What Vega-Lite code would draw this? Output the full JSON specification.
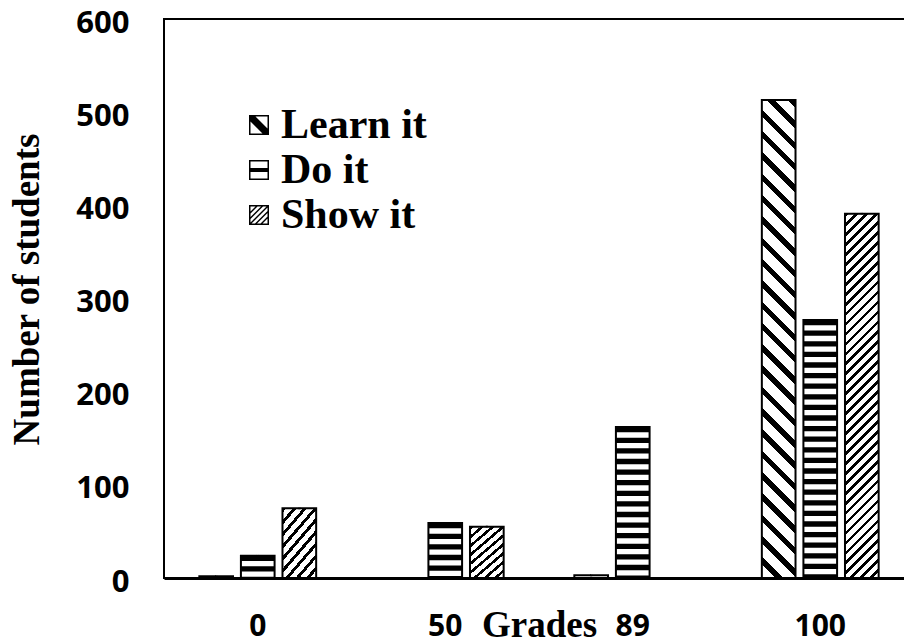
{
  "$schema": "https://vega.github.io/schema/vega-lite/v6.json",
  "width": 750,
  "height": 559,
  "padding": {"left": 8, "top": 7, "right": 0, "bottom": 0},
  "background": "white",
  "config": {"view": {"stroke": "black", "strokeWidth": 2}},
  "data": {"values": [
    {"grade": "0", "series": "Learn it", "n": 2},
    {"grade": "0", "series": "Do it", "n": 24},
    {"grade": "0", "series": "Show it", "n": 75},
    {"grade": "50", "series": "Learn it", "n": 0},
    {"grade": "50", "series": "Do it", "n": 59},
    {"grade": "50", "series": "Show it", "n": 55},
    {"grade": "89", "series": "Learn it", "n": 3},
    {"grade": "89", "series": "Do it", "n": 162},
    {"grade": "89", "series": "Show it", "n": 0},
    {"grade": "100", "series": "Learn it", "n": 513},
    {"grade": "100", "series": "Do it", "n": 277},
    {"grade": "100", "series": "Show it", "n": 391}
  ]},
  "encoding": {
    "x": {"field": "grade", "type": "nominal", "sort": ["0", "50", "89", "100"],
      "scale": {"paddingInner": 0, "paddingOuter": 0},
      "axis": {"title": "Grades", "labelAngle": 0, "ticks": false, "domain": true, "domainColor": "black", "domainWidth": 3,
        "labelFont": "Open Sans", "labelFontWeight": "bold", "labelFontSize": 30, "labelColor": "black", "labelPadding": 33,
        "titleFont": "Liberation Serif", "titleFontWeight": "bold", "titleFontSize": 37, "titleColor": "black",
        "titleBaseline": "alphabetic", "titleY": 58}},
    "xOffset": {"field": "series", "type": "nominal", "sort": ["Learn it", "Do it", "Show it"],
      "scale": {"paddingInner": 0.19, "paddingOuter": 0.85}},
    "y": {"field": "n", "type": "quantitative", "scale": {"domain": [0, 600], "nice": false},
      "axis": {"title": "Number of students", "values": [0, 100, 200, 300, 400, 500, 600], "grid": false, "ticks": false, "domain": false,
        "labelOverlap": false, "labelFont": "Open Sans", "labelFontWeight": "bold", "labelFontSize": 31, "labelColor": "black", "labelPadding": 35, "labelOffset": 4,
        "titleFont": "Liberation Serif", "titleFontWeight": "bold", "titleFontSize": 37, "titleColor": "black", "titlePadding": 29, "titleY": 270}}
  },
  "layer": [
    {
      "transform": [{"filter": "datum.series === 'Learn it' && datum.grade === '100'"}],
      "mark": {"type": "bar", "strokeWidth": 0, "fill": {"gradient": "linear", "x1": 1, "y1": 0, "x2": 0.92495, "y2": 1.0652, "stops": [
        {"offset": 0, "color": "#000"}, {"offset": 0.0146, "color": "#000"}, {"offset": 0.0146, "color": "#fff"}, {"offset": 0.0417, "color": "#fff"},
        {"offset": 0.0417, "color": "#000"}, {"offset": 0.0563, "color": "#000"}, {"offset": 0.0563, "color": "#fff"}, {"offset": 0.0833, "color": "#fff"},
        {"offset": 0.0833, "color": "#000"}, {"offset": 0.0979, "color": "#000"}, {"offset": 0.0979, "color": "#fff"}, {"offset": 0.125, "color": "#fff"},
        {"offset": 0.125, "color": "#000"}, {"offset": 0.1396, "color": "#000"}, {"offset": 0.1396, "color": "#fff"}, {"offset": 0.1667, "color": "#fff"},
        {"offset": 0.1667, "color": "#000"}, {"offset": 0.1813, "color": "#000"}, {"offset": 0.1813, "color": "#fff"}, {"offset": 0.2083, "color": "#fff"},
        {"offset": 0.2083, "color": "#000"}, {"offset": 0.2229, "color": "#000"}, {"offset": 0.2229, "color": "#fff"}, {"offset": 0.25, "color": "#fff"},
        {"offset": 0.25, "color": "#000"}, {"offset": 0.2646, "color": "#000"}, {"offset": 0.2646, "color": "#fff"}, {"offset": 0.2917, "color": "#fff"},
        {"offset": 0.2917, "color": "#000"}, {"offset": 0.3063, "color": "#000"}, {"offset": 0.3063, "color": "#fff"}, {"offset": 0.3333, "color": "#fff"},
        {"offset": 0.3333, "color": "#000"}, {"offset": 0.3479, "color": "#000"}, {"offset": 0.3479, "color": "#fff"}, {"offset": 0.375, "color": "#fff"},
        {"offset": 0.375, "color": "#000"}, {"offset": 0.3896, "color": "#000"}, {"offset": 0.3896, "color": "#fff"}, {"offset": 0.4167, "color": "#fff"},
        {"offset": 0.4167, "color": "#000"}, {"offset": 0.4313, "color": "#000"}, {"offset": 0.4313, "color": "#fff"}, {"offset": 0.4583, "color": "#fff"},
        {"offset": 0.4583, "color": "#000"}, {"offset": 0.4729, "color": "#000"}, {"offset": 0.4729, "color": "#fff"}, {"offset": 0.5, "color": "#fff"},
        {"offset": 0.5, "color": "#000"}, {"offset": 0.5146, "color": "#000"}, {"offset": 0.5146, "color": "#fff"}, {"offset": 0.5417, "color": "#fff"},
        {"offset": 0.5417, "color": "#000"}, {"offset": 0.5563, "color": "#000"}, {"offset": 0.5563, "color": "#fff"}, {"offset": 0.5833, "color": "#fff"},
        {"offset": 0.5833, "color": "#000"}, {"offset": 0.5979, "color": "#000"}, {"offset": 0.5979, "color": "#fff"}, {"offset": 0.625, "color": "#fff"},
        {"offset": 0.625, "color": "#000"}, {"offset": 0.6396, "color": "#000"}, {"offset": 0.6396, "color": "#fff"}, {"offset": 0.6667, "color": "#fff"},
        {"offset": 0.6667, "color": "#000"}, {"offset": 0.6813, "color": "#000"}, {"offset": 0.6813, "color": "#fff"}, {"offset": 0.7083, "color": "#fff"},
        {"offset": 0.7083, "color": "#000"}, {"offset": 0.7229, "color": "#000"}, {"offset": 0.7229, "color": "#fff"}, {"offset": 0.75, "color": "#fff"},
        {"offset": 0.75, "color": "#000"}, {"offset": 0.7646, "color": "#000"}, {"offset": 0.7646, "color": "#fff"}, {"offset": 0.7917, "color": "#fff"},
        {"offset": 0.7917, "color": "#000"}, {"offset": 0.8063, "color": "#000"}, {"offset": 0.8063, "color": "#fff"}, {"offset": 0.8333, "color": "#fff"},
        {"offset": 0.8333, "color": "#000"}, {"offset": 0.8479, "color": "#000"}, {"offset": 0.8479, "color": "#fff"}, {"offset": 0.875, "color": "#fff"},
        {"offset": 0.875, "color": "#000"}, {"offset": 0.8896, "color": "#000"}, {"offset": 0.8896, "color": "#fff"}, {"offset": 0.9167, "color": "#fff"},
        {"offset": 0.9167, "color": "#000"}, {"offset": 0.9313, "color": "#000"}, {"offset": 0.9313, "color": "#fff"}, {"offset": 0.9583, "color": "#fff"},
        {"offset": 0.9583, "color": "#000"}, {"offset": 0.9729, "color": "#000"}, {"offset": 0.9729, "color": "#fff"}, {"offset": 1, "color": "#fff"}
      ]}}
    },
    {
      "transform": [{"filter": "datum.series === 'Show it' && datum.grade === '100'"}],
      "mark": {"type": "bar", "strokeWidth": 0, "fill": {"gradient": "linear", "x1": 0, "y1": 0, "x2": 0.10012, "y2": 1.0833, "stops": [
        {"offset": 0, "color": "#000"}, {"offset": 0.0095, "color": "#000"}, {"offset": 0.0095, "color": "#fff"}, {"offset": 0.025, "color": "#fff"},
        {"offset": 0.025, "color": "#000"}, {"offset": 0.0345, "color": "#000"}, {"offset": 0.0345, "color": "#fff"}, {"offset": 0.05, "color": "#fff"},
        {"offset": 0.05, "color": "#000"}, {"offset": 0.0595, "color": "#000"}, {"offset": 0.0595, "color": "#fff"}, {"offset": 0.075, "color": "#fff"},
        {"offset": 0.075, "color": "#000"}, {"offset": 0.0845, "color": "#000"}, {"offset": 0.0845, "color": "#fff"}, {"offset": 0.1, "color": "#fff"},
        {"offset": 0.1, "color": "#000"}, {"offset": 0.1095, "color": "#000"}, {"offset": 0.1095, "color": "#fff"}, {"offset": 0.125, "color": "#fff"},
        {"offset": 0.125, "color": "#000"}, {"offset": 0.1345, "color": "#000"}, {"offset": 0.1345, "color": "#fff"}, {"offset": 0.15, "color": "#fff"},
        {"offset": 0.15, "color": "#000"}, {"offset": 0.1595, "color": "#000"}, {"offset": 0.1595, "color": "#fff"}, {"offset": 0.175, "color": "#fff"},
        {"offset": 0.175, "color": "#000"}, {"offset": 0.1845, "color": "#000"}, {"offset": 0.1845, "color": "#fff"}, {"offset": 0.2, "color": "#fff"},
        {"offset": 0.2, "color": "#000"}, {"offset": 0.2095, "color": "#000"}, {"offset": 0.2095, "color": "#fff"}, {"offset": 0.225, "color": "#fff"},
        {"offset": 0.225, "color": "#000"}, {"offset": 0.2345, "color": "#000"}, {"offset": 0.2345, "color": "#fff"}, {"offset": 0.25, "color": "#fff"},
        {"offset": 0.25, "color": "#000"}, {"offset": 0.2595, "color": "#000"}, {"offset": 0.2595, "color": "#fff"}, {"offset": 0.275, "color": "#fff"},
        {"offset": 0.275, "color": "#000"}, {"offset": 0.2845, "color": "#000"}, {"offset": 0.2845, "color": "#fff"}, {"offset": 0.3, "color": "#fff"},
        {"offset": 0.3, "color": "#000"}, {"offset": 0.3095, "color": "#000"}, {"offset": 0.3095, "color": "#fff"}, {"offset": 0.325, "color": "#fff"},
        {"offset": 0.325, "color": "#000"}, {"offset": 0.3345, "color": "#000"}, {"offset": 0.3345, "color": "#fff"}, {"offset": 0.35, "color": "#fff"},
        {"offset": 0.35, "color": "#000"}, {"offset": 0.3595, "color": "#000"}, {"offset": 0.3595, "color": "#fff"}, {"offset": 0.375, "color": "#fff"},
        {"offset": 0.375, "color": "#000"}, {"offset": 0.3845, "color": "#000"}, {"offset": 0.3845, "color": "#fff"}, {"offset": 0.4, "color": "#fff"},
        {"offset": 0.4, "color": "#000"}, {"offset": 0.4095, "color": "#000"}, {"offset": 0.4095, "color": "#fff"}, {"offset": 0.425, "color": "#fff"},
        {"offset": 0.425, "color": "#000"}, {"offset": 0.4345, "color": "#000"}, {"offset": 0.4345, "color": "#fff"}, {"offset": 0.45, "color": "#fff"},
        {"offset": 0.45, "color": "#000"}, {"offset": 0.4595, "color": "#000"}, {"offset": 0.4595, "color": "#fff"}, {"offset": 0.475, "color": "#fff"},
        {"offset": 0.475, "color": "#000"}, {"offset": 0.4845, "color": "#000"}, {"offset": 0.4845, "color": "#fff"}, {"offset": 0.5, "color": "#fff"},
        {"offset": 0.5, "color": "#000"}, {"offset": 0.5095, "color": "#000"}, {"offset": 0.5095, "color": "#fff"}, {"offset": 0.525, "color": "#fff"},
        {"offset": 0.525, "color": "#000"}, {"offset": 0.5345, "color": "#000"}, {"offset": 0.5345, "color": "#fff"}, {"offset": 0.55, "color": "#fff"},
        {"offset": 0.55, "color": "#000"}, {"offset": 0.5595, "color": "#000"}, {"offset": 0.5595, "color": "#fff"}, {"offset": 0.575, "color": "#fff"},
        {"offset": 0.575, "color": "#000"}, {"offset": 0.5845, "color": "#000"}, {"offset": 0.5845, "color": "#fff"}, {"offset": 0.6, "color": "#fff"},
        {"offset": 0.6, "color": "#000"}, {"offset": 0.6095, "color": "#000"}, {"offset": 0.6095, "color": "#fff"}, {"offset": 0.625, "color": "#fff"},
        {"offset": 0.625, "color": "#000"}, {"offset": 0.6345, "color": "#000"}, {"offset": 0.6345, "color": "#fff"}, {"offset": 0.65, "color": "#fff"},
        {"offset": 0.65, "color": "#000"}, {"offset": 0.6595, "color": "#000"}, {"offset": 0.6595, "color": "#fff"}, {"offset": 0.675, "color": "#fff"},
        {"offset": 0.675, "color": "#000"}, {"offset": 0.6845, "color": "#000"}, {"offset": 0.6845, "color": "#fff"}, {"offset": 0.7, "color": "#fff"},
        {"offset": 0.7, "color": "#000"}, {"offset": 0.7095, "color": "#000"}, {"offset": 0.7095, "color": "#fff"}, {"offset": 0.725, "color": "#fff"},
        {"offset": 0.725, "color": "#000"}, {"offset": 0.7345, "color": "#000"}, {"offset": 0.7345, "color": "#fff"}, {"offset": 0.75, "color": "#fff"},
        {"offset": 0.75, "color": "#000"}, {"offset": 0.7595, "color": "#000"}, {"offset": 0.7595, "color": "#fff"}, {"offset": 0.775, "color": "#fff"},
        {"offset": 0.775, "color": "#000"}, {"offset": 0.7845, "color": "#000"}, {"offset": 0.7845, "color": "#fff"}, {"offset": 0.8, "color": "#fff"},
        {"offset": 0.8, "color": "#000"}, {"offset": 0.8095, "color": "#000"}, {"offset": 0.8095, "color": "#fff"}, {"offset": 0.825, "color": "#fff"},
        {"offset": 0.825, "color": "#000"}, {"offset": 0.8345, "color": "#000"}, {"offset": 0.8345, "color": "#fff"}, {"offset": 0.85, "color": "#fff"},
        {"offset": 0.85, "color": "#000"}, {"offset": 0.8595, "color": "#000"}, {"offset": 0.8595, "color": "#fff"}, {"offset": 0.875, "color": "#fff"},
        {"offset": 0.875, "color": "#000"}, {"offset": 0.8845, "color": "#000"}, {"offset": 0.8845, "color": "#fff"}, {"offset": 0.9, "color": "#fff"},
        {"offset": 0.9, "color": "#000"}, {"offset": 0.9095, "color": "#000"}, {"offset": 0.9095, "color": "#fff"}, {"offset": 0.925, "color": "#fff"},
        {"offset": 0.925, "color": "#000"}, {"offset": 0.9345, "color": "#000"}, {"offset": 0.9345, "color": "#fff"}, {"offset": 0.95, "color": "#fff"},
        {"offset": 0.95, "color": "#000"}, {"offset": 0.9595, "color": "#000"}, {"offset": 0.9595, "color": "#fff"}, {"offset": 0.975, "color": "#fff"},
        {"offset": 0.975, "color": "#000"}, {"offset": 0.9845, "color": "#000"}, {"offset": 0.9845, "color": "#fff"}, {"offset": 1, "color": "#fff"}
      ]}}
    },
    {
      "transform": [{"filter": "datum.series === 'Show it' && datum.grade !== '100' && datum.n > 0"}],
      "mark": {"type": "bar", "strokeWidth": 0, "fill": {"gradient": "linear", "x1": 0, "y1": 0, "x2": 0.6663, "y2": 1.1873, "stops": [
        {"offset": 0, "color": "#000"}, {"offset": 0.0422, "color": "#000"}, {"offset": 0.0422, "color": "#fff"}, {"offset": 0.1111, "color": "#fff"},
        {"offset": 0.1111, "color": "#000"}, {"offset": 0.1533, "color": "#000"}, {"offset": 0.1533, "color": "#fff"}, {"offset": 0.2222, "color": "#fff"},
        {"offset": 0.2222, "color": "#000"}, {"offset": 0.2644, "color": "#000"}, {"offset": 0.2644, "color": "#fff"}, {"offset": 0.3333, "color": "#fff"},
        {"offset": 0.3333, "color": "#000"}, {"offset": 0.3755, "color": "#000"}, {"offset": 0.3755, "color": "#fff"}, {"offset": 0.4444, "color": "#fff"},
        {"offset": 0.4444, "color": "#000"}, {"offset": 0.4866, "color": "#000"}, {"offset": 0.4866, "color": "#fff"}, {"offset": 0.5556, "color": "#fff"},
        {"offset": 0.5556, "color": "#000"}, {"offset": 0.5978, "color": "#000"}, {"offset": 0.5978, "color": "#fff"}, {"offset": 0.6667, "color": "#fff"},
        {"offset": 0.6667, "color": "#000"}, {"offset": 0.7089, "color": "#000"}, {"offset": 0.7089, "color": "#fff"}, {"offset": 0.7778, "color": "#fff"},
        {"offset": 0.7778, "color": "#000"}, {"offset": 0.82, "color": "#000"}, {"offset": 0.82, "color": "#fff"}, {"offset": 0.8889, "color": "#fff"},
        {"offset": 0.8889, "color": "#000"}, {"offset": 0.9311, "color": "#000"}, {"offset": 0.9311, "color": "#fff"}, {"offset": 1, "color": "#fff"}
      ]}}
    },
    {
      "transform": [{"filter": "datum.series === 'Do it'"}],
      "mark": {"type": "rule", "color": "black", "strokeWidth": 33.6, "strokeDash": [5.3, 5.3], "strokeCap": "butt"},
      "encoding": {"y2": {"datum": 0}}
    },
    {
      "mark": {"type": "bar", "fill": "transparent", "stroke": "black", "strokeWidth": 2}
    },
    {
      "mark": {"type": "point", "filled": true, "color": "black", "opacity": 1, "size": 4, "strokeWidth": 0},
      "encoding": {
        "shape": {"field": "series", "type": "nominal", "sort": ["Learn it", "Do it", "Show it"],
          "scale": {"range": [
            "M-1,-1L1,-1L1,1L-1,1Z M-0.35,-0.85L0.85,0.35L0.85,-0.85Z M-0.85,-0.35L-0.85,0.85L0.35,0.85Z",
            "M-1,-1L1,-1L1,1L-1,1Z M-0.85,-0.85L-0.85,-0.2L0.85,-0.2L0.85,-0.85Z M-0.85,0.2L-0.85,0.85L0.85,0.85L0.85,0.2Z",
            "M-1,-1L1,-1L1,1L-1,1Z M-0.85,-0.85L-0.85,0.85L0.85,0.85L0.85,-0.85Z M-0.35,-0.85L-0.15,-0.85L-0.85,-0.15L-0.85,-0.35Z M0.2,-0.85L0.4,-0.85L-0.85,0.4L-0.85,0.2Z M0.75,-0.85L0.85,-0.85L0.85,-0.75L-0.75,0.85L-0.85,0.85L-0.85,0.75Z M0.85,-0.4L0.85,-0.2L-0.2,0.85L-0.4,0.85Z M0.85,0.15L0.85,0.35L0.35,0.85L0.15,0.85Z"
          ]},
          "legend": {"title": null, "orient": "none", "legendX": 74, "legendY": 85, "symbolSize": 400,
            "symbolFillColor": "black", "symbolStrokeWidth": 0, "symbolOpacity": 1,
            "labelFont": "Liberation Serif", "labelFontWeight": "bold",
            "labelFontSize": 42, "labelColor": "black", "labelOffset": 1, "rowPadding": 3, "labelLimit": 400}}
      }
    }
  ]
}
